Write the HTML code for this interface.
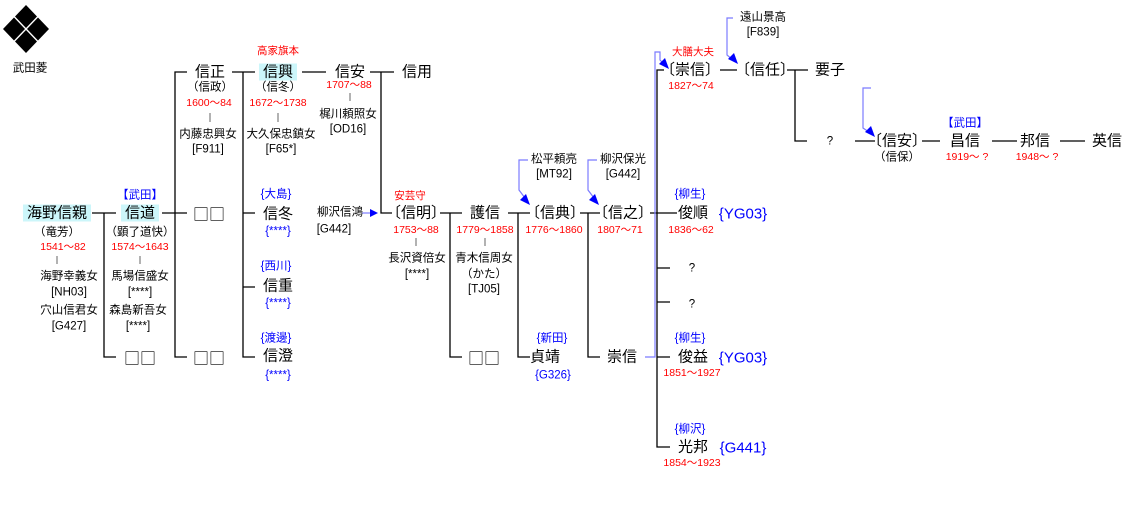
<!DOCTYPE html>
<html><head><meta charset="utf-8">
<style>
html,body{margin:0;padding:0;background:#fff;}
#c{position:relative;width:1124px;height:505px;overflow:hidden;font-family:"Liberation Sans","Noto Sans CJK JP",sans-serif;color:#000;}
.t{position:absolute;transform:translate(-50%,-50%);white-space:nowrap;line-height:1;}
.n{font-size:15px;}
.s{font-size:11.5px;}
.r{font-size:10.5px;color:#f00;}
.b{color:#00f;}
.q{font-family:"Noto Sans CJK JP",sans-serif;font-size:16px;}
.hl{background:#ccf6fa;padding:1px 4px;}
svg{position:absolute;left:0;top:0;}
</style></head><body><div id="c">
<svg width="1124" height="505">
<g fill="#000">
<polygon points="26,5 37,16.5 26,28 15,16.5"/>
<polygon points="14,17.5 25,29 14,40.5 3,29"/>
<polygon points="38,17.5 49,29 38,40.5 27,29"/>
<polygon points="26,30 37,41.5 26,53 15,41.5"/>
</g>
<g stroke="#000" stroke-width="1.3" fill="none">
<path d="M92,213H116M104,213V357H116"/>
<path d="M162,213H187M187,72H175V357H187"/>
<path d="M232,72H255M243,72V357H255M243,213H255M243,287H255"/>
<path d="M302,72H326"/>
<path d="M370,72H394M381,72V213H392"/>
<path d="M440,213H462M450,213V357H462"/>
<path d="M508,213H530M518,213V357H530"/>
<path d="M580,213H600M588,213V357H600"/>
<path d="M650,213H677M664,70H657V447H670M657,268H670M657,302H670M657,357H670"/>
<path d="M720,70H737"/>
<path d="M787,70H808M795,70V141H807"/>
<path d="M855,141H875"/>
<path d="M922,141H940M992,141H1017M1060,141H1085"/>
</g>
<g stroke="#000" stroke-width="1" opacity="0.6">
<path d="M57,256V264M140,256V264M210,113V122M278,113V122M350,93V101M416,238V246M485,238V246"/>
</g>
<g stroke="#7b7bff" stroke-width="1.2" fill="none">
<path d="M528,160H519V190L525,198"/>
<path d="M597,160H588V190L594,198"/>
<path d="M645,357H655V52H660V60L664,64"/>
<path d="M733,18H727V55L733,60"/>
<path d="M871,88H863V128L869,132"/>
<path d="M362,213H372"/>
</g>
<g fill="#0000ff">
<polygon points="530,205 520,200 526,194"/>
<polygon points="599,205 589,200 595,194"/>
<polygon points="669,69 659,64 665,58"/>
<polygon points="738,64 728,59 734,53"/>
<polygon points="875,137 865,132 871,126"/>
<polygon points="378,213 370,209 370,217"/>
</g>
</svg>

<div class="t s" style="left:30px;top:69px">武田菱</div>

<div class="t n hl" style="left:57px;top:213px">海野信親</div>
<div class="t s" style="left:57px;top:233px">（竜芳）</div>
<div class="t r" style="left:63px;top:247px">1541～82</div>
<div class="t s" style="left:69px;top:277px">海野幸義女</div>
<div class="t s" style="left:69px;top:293px">[NH03]</div>
<div class="t s" style="left:69px;top:311px">穴山信君女</div>
<div class="t s" style="left:69px;top:327px">[G427]</div>

<div class="t s b" style="left:140px;top:196px">【武田】</div>
<div class="t n hl" style="left:140px;top:213px">信道</div>
<div class="t s" style="left:140px;top:233px">（顕了道快）</div>
<div class="t r" style="left:140px;top:247px">1574～1643</div>
<div class="t s" style="left:140px;top:277px">馬場信盛女</div>
<div class="t s" style="left:140px;top:293px">[****]</div>
<div class="t s" style="left:138px;top:311px">森島新吾女</div>
<div class="t s" style="left:138px;top:327px">[****]</div>
<div class="t q" style="left:140px;top:357px">□□</div>
<div class="t q" style="left:209px;top:213px">□□</div>
<div class="t q" style="left:209px;top:357px">□□</div>

<div class="t n" style="left:210px;top:72px">信正</div>
<div class="t s" style="left:210px;top:88px">（信政）</div>
<div class="t r" style="left:209px;top:103px">1600～84</div>
<div class="t s" style="left:208px;top:135px">内藤忠興女</div>
<div class="t s" style="left:208px;top:150px">[F911]</div>

<div class="t r" style="left:278px;top:51px">高家旗本</div>
<div class="t n hl" style="left:278px;top:72px">信興</div>
<div class="t s" style="left:278px;top:88px">（信冬）</div>
<div class="t r" style="left:278px;top:103px">1672～1738</div>
<div class="t s" style="left:281px;top:135px">大久保忠鎮女</div>
<div class="t s" style="left:281px;top:150px">[F65*]</div>

<div class="t s b" style="left:276px;top:195px">{大島}</div>
<div class="t n" style="left:278px;top:214px">信冬</div>
<div class="t s b" style="left:278px;top:232px">{****}</div>
<div class="t s b" style="left:276px;top:267px">{西川}</div>
<div class="t n" style="left:278px;top:286px">信重</div>
<div class="t s b" style="left:278px;top:304px">{****}</div>
<div class="t s b" style="left:276px;top:339px">{渡邊}</div>
<div class="t n" style="left:278px;top:356px">信澄</div>
<div class="t s b" style="left:278px;top:376px">{****}</div>

<div class="t n" style="left:350px;top:72px">信安</div>
<div class="t r" style="left:349px;top:85px">1707～88</div>
<div class="t s" style="left:348px;top:115px">梶川頼照女</div>
<div class="t s" style="left:348px;top:130px">[OD16]</div>
<div class="t n" style="left:417px;top:72px">信用</div>

<div class="t s" style="left:340px;top:213px">柳沢信鴻</div>
<div class="t s" style="left:334px;top:230px">[G442]</div>

<div class="t r" style="left:410px;top:196px">安芸守</div>
<div class="t n" style="left:416px;top:213px">〔信明〕</div>
<div class="t r" style="left:416px;top:230px">1753～88</div>
<div class="t s" style="left:417px;top:259px">長沢資倍女</div>
<div class="t s" style="left:417px;top:275px">[****]</div>

<div class="t n" style="left:485px;top:213px">護信</div>
<div class="t r" style="left:485px;top:230px">1779～1858</div>
<div class="t s" style="left:484px;top:259px">青木信周女</div>
<div class="t s" style="left:484px;top:275px">（かた）</div>
<div class="t s" style="left:484px;top:290px">[TJ05]</div>
<div class="t q" style="left:484px;top:357px">□□</div>

<div class="t s" style="left:554px;top:160px">松平頼亮</div>
<div class="t s" style="left:554px;top:175px">[MT92]</div>
<div class="t n" style="left:555px;top:213px">〔信典〕</div>
<div class="t r" style="left:554px;top:230px">1776～1860</div>
<div class="t s b" style="left:552px;top:339px">{新田}</div>
<div class="t n" style="left:545px;top:357px">貞靖</div>
<div class="t s b" style="left:553px;top:376px">{G326}</div>

<div class="t s" style="left:623px;top:160px">柳沢保光</div>
<div class="t s" style="left:623px;top:175px">[G442]</div>
<div class="t n" style="left:623px;top:213px">〔信之〕</div>
<div class="t r" style="left:620px;top:230px">1807～71</div>
<div class="t n" style="left:622px;top:357px">崇信</div>

<div class="t r" style="left:693px;top:52px">大膳大夫</div>
<div class="t n" style="left:690px;top:70px">〔崇信〕</div>
<div class="t r" style="left:691px;top:86px">1827～74</div>

<div class="t s" style="left:763px;top:18px">遠山景高</div>
<div class="t s" style="left:763px;top:33px">[F839]</div>
<div class="t n" style="left:765px;top:70px">〔信任〕</div>
<div class="t n" style="left:830px;top:70px">要子</div>
<div class="t s" style="left:830px;top:142px">?</div>
<div class="t n" style="left:897px;top:141px">〔信安〕</div>
<div class="t s" style="left:897px;top:158px">（信保）</div>
<div class="t s b" style="left:965px;top:124px">【武田】</div>
<div class="t n" style="left:965px;top:141px">昌信</div>
<div class="t r" style="left:967px;top:157px">1919～ ?</div>
<div class="t n" style="left:1035px;top:141px">邦信</div>
<div class="t r" style="left:1037px;top:157px">1948～ ?</div>
<div class="t n" style="left:1107px;top:141px">英信</div>

<div class="t s b" style="left:690px;top:195px">{柳生}</div>
<div class="t n" style="left:693px;top:213px">俊順</div>
<div class="t n b" style="left:743px;top:214px">{YG03}</div>
<div class="t r" style="left:691px;top:230px">1836～62</div>
<div class="t s" style="left:692px;top:269px">?</div>
<div class="t s" style="left:692px;top:305px">?</div>
<div class="t s b" style="left:690px;top:339px">{柳生}</div>
<div class="t n" style="left:693px;top:357px">俊益</div>
<div class="t n b" style="left:743px;top:358px">{YG03}</div>
<div class="t r" style="left:692px;top:373px">1851～1927</div>
<div class="t s b" style="left:690px;top:430px">{柳沢}</div>
<div class="t n" style="left:693px;top:447px">光邦</div>
<div class="t n b" style="left:743px;top:448px">{G441}</div>
<div class="t r" style="left:692px;top:463px">1854～1923</div>
</div></body></html>
